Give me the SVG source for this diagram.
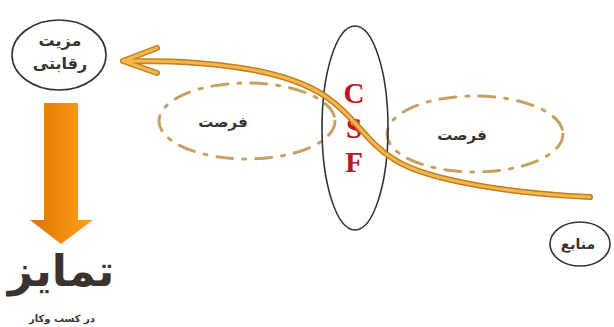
<svg xmlns="http://www.w3.org/2000/svg" width="614" height="327" viewBox="0 0 614 327">
<style>
.circ{fill:#fff;stroke:#333;stroke-width:1.6}
.fa{font-family:"DejaVu Sans",sans-serif;font-weight:bold;fill:#3a3330;text-anchor:middle}
.dash{fill:none;stroke:#c9a064;stroke-width:3;stroke-dasharray:16 10 3 10;stroke-linecap:round}
.csf{font-family:"Liberation Serif",serif;font-weight:bold;fill:#c0141c;font-size:29px;text-anchor:middle}
.pathU{fill:none;stroke:#c17e1c;stroke-width:6;stroke-linecap:round;stroke-linejoin:round}
.pathT{fill:none;stroke:#f4b74e;stroke-width:3;stroke-linecap:round;stroke-linejoin:round}
</style>
<defs>
<linearGradient id="og" x1="0" y1="0" x2="1" y2="0">
<stop offset="0" stop-color="#dc7400"/>
<stop offset="1" stop-color="#ffa01e"/>
</linearGradient>
</defs>
<rect width="614" height="327" fill="#fff"/>
<g id="opp-left">
<ellipse class="dash" cx="247" cy="121" rx="88" ry="38"/>
<text class="fa" x="223" y="127" font-size="15">فرصت</text>
</g>
<g id="opp-right">
<ellipse class="dash" cx="475" cy="134" rx="88" ry="38"/>
<text class="fa" x="462" y="140" font-size="15">فرصت</text>
</g>
<g id="csf">
<ellipse cx="355" cy="128" rx="33" ry="102" fill="none" stroke="#333" stroke-width="1.6"/>
<text class="csf" x="354" y="103">C</text>
<text class="csf" x="354" y="138">S</text>
<text class="csf" x="354" y="172">F</text>
</g>
<g id="connectors">
<path class="pathU" d="M590 197 C520 194 430 182 395 160 C365 142 355 116 325 96 C280 66 200 60 123 61 M123 61 L157 48 M123 61 L157 73"/>
<path class="pathT" d="M590 197 C520 194 430 182 395 160 C365 142 355 116 325 96 C280 66 200 60 123 61 M123 61 L157 48 M123 61 L157 73"/>
<path d="M44 103 H78 V220 H93 L61 244 L30 220 H44 Z" fill="url(#og)"/>
</g>
<g id="mazit">
<ellipse class="circ" cx="59" cy="55" rx="47" ry="35"/>
<text class="fa" x="60" y="46" font-size="16">مزیت</text>
<text class="fa" x="60" y="69" font-size="16">رقابتی</text>
</g>
<g id="manabe">
<ellipse class="circ" cx="580" cy="244" rx="30" ry="22"/>
<text class="fa" x="578" y="249" font-size="14">منابع</text>
</g>
<g id="tamayoz">
<text class="fa" x="61" y="286" font-size="44" fill="#4a3c30">تمایز</text>
<text class="fa" x="62" y="322" font-size="10">در کسب وکار</text>
</g>
</svg>
